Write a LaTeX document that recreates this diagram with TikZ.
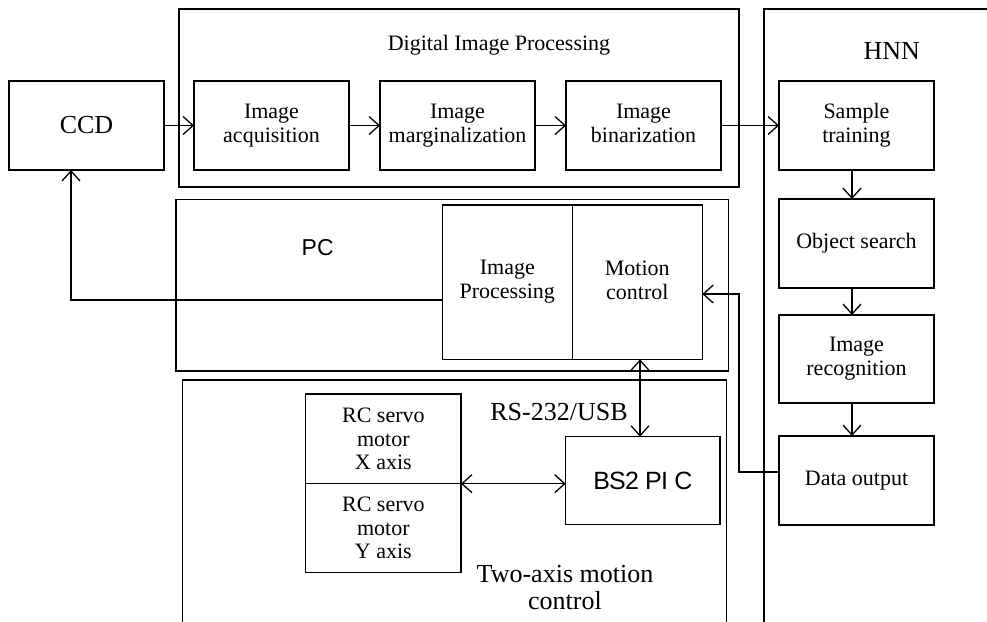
\documentclass[tikz,border=0pt]{standalone}
\usepackage{fontspec}
\setmainfont{Liberation Serif}
\newfontfamily\arialfont{Liberation Sans}
\usetikzlibrary{arrows.meta}

\tikzset{
  ln/.style={line width=0.65pt},
  tip/.tip={Straight Barb[length=5pt,width=9pt]},
  arr/.style={ln, -tip},
  arrs/.style={ln, tip-tip},
  txt/.style={font=\fontsize{11pt}{12pt}\selectfont, align=center},
  bigtxt/.style={font=\fontsize{13pt}{13.5pt}\selectfont, align=center},
  box/.style={draw, ln, txt, minimum width=77.5pt, minimum height=44.5pt},
  frame/.style={draw, ln},
}

\begin{document}
\begin{tikzpicture}[x=0.5pt,y=-0.5pt, every node/.style={inner sep=0pt, outer sep=0pt}]
\useasboundingbox (0,0) rectangle (987,622);
\clip (0,0) rectangle (987,622);

% ---- group frames ----
\node[frame, minimum width=280pt, minimum height=89pt] (dip) at (459,98) {};
\node[txt, anchor=base] (diptitle) at (499,50.7) {Digital Image Processing};

\draw[ln] (764,700) -- (764,9) -- (1100,9);
\node[bigtxt, anchor=base] (hnntitle) at (891.7,59.3) {HNN};

\node[frame, minimum width=276.15pt, minimum height=85.85pt] (pc) at (452.15,285.15) {};
\node[font=\arialfont\fontsize{11.5pt}{12pt}\selectfont, anchor=base] (pctitle) at (317.7,255.7) {PC};

\draw[ln] (182.3,700) -- (182.3,380) -- (726.7,380) -- (726.7,700);
\node[bigtxt] (twoaxis) at (565,588) {Two-axis motion\\control};
\node[bigtxt, anchor=base] (rs) at (559,420) {RS-232/USB};

% ---- blocks ----
\node[box, font=\fontsize{13pt}{14pt}\selectfont] (ccd) at (86.5,125.5) {CCD};
\node[box] (acq) at (271.5,125.5) {Image\\acquisition};
\node[box] (mar) at (457.5,125.5) {Image\\marginalization};
\node[box] (bin) at (643.5,125.5) {Image\\binarization\vphantom{q}};

\node[box] (st) at (856.5,125.5) {Sample\\training};
\node[box] (os) at (856.5,243.5) {Object search};
\node[box, minimum height=44pt] (ir) at (856.5,359) {Image\\recognition};
\node[box] (dout) at (856.5,480.5) {Data output};

\node[box, minimum width=65pt, minimum height=77.15pt] (ip) at (507.3,282.15) {Image\\Processing};
\node[box, minimum width=65pt, minimum height=77.15pt] (mc) at (637.3,282.15) {Motion\\control\vphantom{g}};

\node[box, minimum width=77.65pt, minimum height=44.85pt, font=\fontsize{11pt}{11.75pt}\selectfont] (rcx) at (383.35,438.85) {RC servo\\motor\\X axis};
\node[box, minimum width=77.65pt, minimum height=44.3pt, font=\fontsize{11pt}{11.75pt}\selectfont] (rcy) at (383.35,528) {RC servo\\motor\\Y axis};

\node[box, minimum width=77.15pt, minimum height=44pt, font=\arialfont\addfontfeature{LetterSpace=-3}\fontsize{12.5pt}{13pt}\selectfont] (bs) at (642.85,480.7) {BS2 PI C};

% ---- routing points ----
\coordinate (hx) at (852,0);
\coordinate (lx) at (71,300);
\coordinate (rj1) at (739,472);
\coordinate (rj2) at (739,294);
\coordinate (bx) at (640,0);

% ---- connectors ----
\draw[arr] (ccd) -- (acq);
\draw[arr] (acq) -- (mar);
\draw[arr] (mar) -- (bin);
\draw[arr] (bin) -- (st);

\draw[arr] (st.south -| hx) -- (os.north -| hx);
\draw[arr] (os.south -| hx) -- (ir.north -| hx);
\draw[arr] (ir.south -| hx) -- (dout.north -| hx);

\draw[arr] (ip.west |- lx) -- (lx) -- (ccd.south -| lx);
\draw[arr] (dout.west |- rj1) -- (rj1) -- (rj2) -- (mc.east |- rj2);
\draw[arrs] (mc.south -| bx) -- (bs.north -| bx);
\draw[arrs] (rcx.south east) -- (bs.west |- rcx.south east);
\end{tikzpicture}
\end{document}
